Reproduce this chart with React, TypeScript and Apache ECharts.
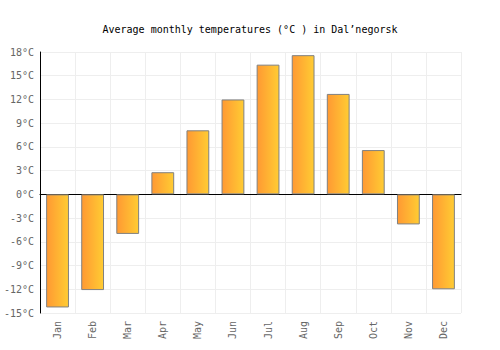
import React, { useEffect, useRef } from "react";
import * as echarts from "echarts";

const months = ["Jan", "Feb", "Mar", "Apr", "May", "Jun", "Jul", "Aug", "Sep", "Oct", "Nov", "Dec"];
const temps = [-14.3, -12.1, -5.0, 2.8, 8.1, 12.0, 16.4, 17.6, 12.7, 5.6, -3.8, -12.0];
const titleText = "Average monthly temperatures (°C ) in Dal’negorsk";

const FONT = "DejaVu Sans Mono";

export default function App() {
  const ref = useRef<HTMLDivElement>(null);
  useEffect(() => {
    document.body.style.margin = "0";
    const chart = echarts.init(ref.current!, null, { renderer: "svg" });
    chart.setOption({
      animation: false,
      title: {
        text: titleText,
        left: "center",
        top: 19,
        textStyle: { fontFamily: FONT, fontSize: 10, fontWeight: "normal", color: "#000" },
      },
      grid: { left: 40, right: 39, top: 52, bottom: 37 },
      xAxis: {
        type: "category",
        data: months,
        axisLine: { show: true, onZero: true, lineStyle: { color: "#000", width: 1 } },
        axisTick: { show: false },
        axisLabel: { rotate: 90, color: "#666", fontFamily: FONT, fontSize: 10, margin: 8 },
        splitLine: { show: true, lineStyle: { color: "#eeeeee", width: 1 } },
      },
      yAxis: {
        type: "value",
        min: -15,
        max: 18,
        interval: 3,
        axisLine: { show: true, lineStyle: { color: "#000", width: 1 } },
        axisTick: { show: false },
        axisLabel: { formatter: "{value}°C", color: "#666", fontFamily: FONT, fontSize: 10, margin: 6 },
        splitLine: { show: true, lineStyle: { color: "#eeeeee", width: 1 } },
      },
      series: [
        {
          type: "bar",
          data: temps,
          barWidth: "65%",
          itemStyle: {
            color: new echarts.graphic.LinearGradient(0, 0, 1, 0, [
              { offset: 0, color: "#FF9933" },
              { offset: 1, color: "#FFCC33" },
            ]),
            borderColor: "#808080",
            borderWidth: 1,
          },
        },
      ],
    });
    return () => chart.dispose();
  }, []);
  return <div ref={ref} style={{ width: 500, height: 350 }} />;
}
